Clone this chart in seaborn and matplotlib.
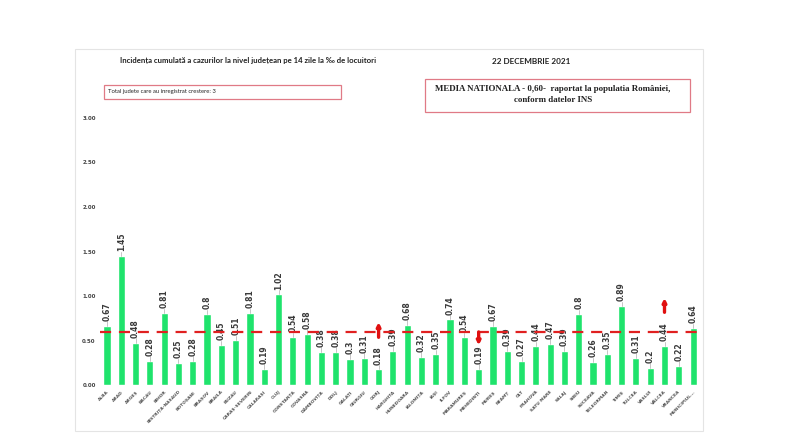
import numpy as np
import pandas as pd
import matplotlib
matplotlib.use("Agg")
import matplotlib.pyplot as plt
from matplotlib.patches import Rectangle
import seaborn as sns

counties = ["ALBA", "ARAD", "ARGEȘ", "BACĂU", "BIHOR", "BISTRIȚA-NĂSĂUD", "BOTOȘANI",
            "BRAȘOV", "BRĂILA", "BUZĂU", "CARAȘ-SEVERIN", "CĂLĂRAȘI", "CLUJ", "CONSTANȚA",
            "COVASNA", "DÂMBOVIȚA", "DOLJ", "GALAȚI", "GIURGIU", "GORJ", "HARGHITA",
            "HUNEDOARA", "IALOMIȚA", "IAȘI", "ILFOV", "MARAMUREȘ", "MEHEDINȚI", "MUREȘ",
            "NEAMȚ", "OLT", "PRAHOVA", "SATU MARE", "SĂLAJ", "SIBIU", "SUCEAVA",
            "TELEORMAN", "TIMIȘ", "TULCEA", "VASLUI", "VÂLCEA", "VRANCEA", "MUNICIPIUL..."]
incidence = [0.67, 1.45, 0.48, 0.28, 0.81, 0.25, 0.28, 0.8, 0.45, 0.51, 0.81, 0.19,
             1.02, 0.54, 0.58, 0.38, 0.38, 0.3, 0.31, 0.18, 0.39, 0.68, 0.32, 0.35,
             0.74, 0.54, 0.19, 0.67, 0.39, 0.27, 0.44, 0.47, 0.39, 0.8, 0.26, 0.35,
             0.89, 0.31, 0.2, 0.44, 0.22, 0.64]
national_mean = 0.60
# counties with a change marked by arrows
trend_counties = ["GORJ", "MEHEDINȚI", "VÂLCEA"]
trend_start = [0.54, 0.60, 0.82]
trend_end = [0.71, 0.45, 0.98]
yticks = [0.0, 0.5, 1.0, 1.5, 2.0, 2.5, 3.0]

df = pd.DataFrame({"judet": counties, "val": incidence})

sns.set_style("white")
plt.rcParams["font.family"] = ["DejaVu Sans"]

fig = plt.figure(figsize=(8, 4.33), dpi=100)
ax = fig.add_axes([0.1248, 0.1097, 0.7505, 0.6185])

green = "#1fe36c"
sns.barplot(data=df, x="judet", y="val", color=green, width=0.5, ax=ax, saturation=1)

ax.set_xlim(-0.5, len(counties) - 0.5)
ax.set_ylim(0, 3.0)
ax.set_yticks(yticks)
ax.set_yticklabels([f"{t:.2f}" for t in yticks], fontsize=4, fontweight="bold", color="#444444")
ax.set_xticks(range(len(counties)))
ax.set_xticklabels(counties, rotation=45, ha="right", rotation_mode="anchor",
                   fontsize=3.2, fontweight="bold", color="#555555")
ax.tick_params(axis="both", length=0, pad=3)
ax.set_xlabel("")
ax.set_ylabel("")
for s in ax.spines.values():
    s.set_visible(False)

# value labels with small leader lines
for i, v in enumerate(incidence):
    ax.plot([i, i], [v, v + 0.05], color="#bbbbbb", lw=0.6, zorder=2)
    ax.text(i, v + 0.055, f"{v:g}", rotation=90, ha="center", va="bottom",
            fontsize=5.5, fontweight="bold", color="#3a3a3a")

ax.axhline(national_mean, xmin=0.0, xmax=0.995, color="#e02020", lw=1.6,
           ls=(0, (5, 3.5)), zorder=3)

for name, a, b in zip(trend_counties, trend_start, trend_end):
    i = counties.index(name)
    ax.annotate("", xy=(i, b), xytext=(i, a),
                arrowprops=dict(arrowstyle="-|>", color="#e01010", lw=2.4,
                                mutation_scale=5, shrinkA=0, shrinkB=0), zorder=4)

# outer frame
fig.patches.append(Rectangle((75 / 800, 2 / 433), 628 / 800, 382 / 433,
                             transform=fig.transFigure, fill=False,
                             ec="#e4e4e4", lw=0.8))

head_font = ["Lato", "DejaVu Sans"]
fig.text(248 / 800, 1 - 61 / 433,
         "Incidența cumulată a cazurilor la nivel județean pe 14 zile la ‰ de locuitori",
         ha="center", va="center", fontsize=5.6, fontweight="bold",
         family=head_font, color="#222222")
fig.text(531 / 800, 1 - 62 / 433, "22 DECEMBRIE 2021", ha="center", va="center",
         fontsize=5.9, fontweight="bold", family=head_font, color="#222222")

# info boxes
fig.patches.append(Rectangle((104 / 800, 1 - 99 / 433), 237 / 800, 14 / 433,
                             transform=fig.transFigure, fill=False,
                             ec="#e07a86", lw=0.9))
fig.text(108 / 800, 1 - 92 / 433, "Total judete care au inregistrat crestere: 3",
         ha="left", va="center", fontsize=4.2, color="#222222", family=head_font)

fig.patches.append(Rectangle((425 / 800, 1 - 112 / 433), 265 / 800, 33 / 433,
                             transform=fig.transFigure, fill=False,
                             ec="#e07a86", lw=0.9))
fig.text(553 / 800, 1 - 89 / 433, "MEDIA NATIONALA - 0,60-  raportat la populatia României,",
         ha="center", va="center", fontsize=6.4, fontweight="bold",
         family=["Liberation Serif", "DejaVu Serif"], color="#222222")
fig.text(553 / 800, 1 - 100 / 433, "conform datelor INS",
         ha="center", va="center", fontsize=6.4, fontweight="bold",
         family=["Liberation Serif", "DejaVu Serif"], color="#222222")

fig.savefig("out.png", dpi=100)
